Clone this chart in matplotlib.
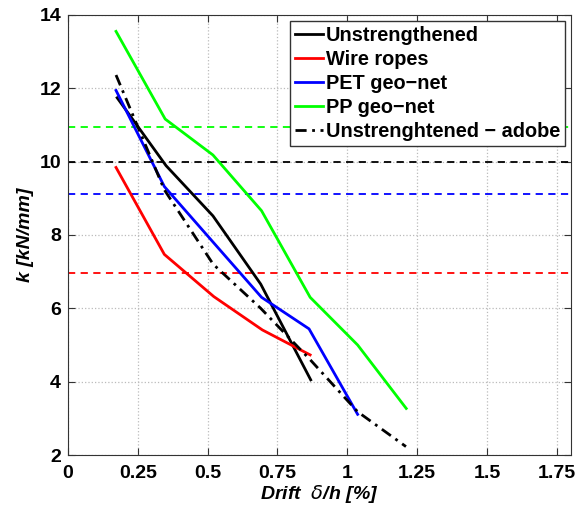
import matplotlib
matplotlib.use("Agg")
import matplotlib.pyplot as plt

plt.rcParams['font.family'] = ['Liberation Sans', 'DejaVu Sans']

# drift [%] and stiffness [kN/mm]
unstr_x = [0.176, 0.351, 0.519, 0.690, 0.869]
unstr_y = [11.74, 9.89, 8.52, 6.66, 4.05]
wire_x = [0.172, 0.345, 0.522, 0.696, 0.867]
wire_y = [9.84, 7.47, 6.32, 5.41, 4.73]
pet_x = [0.172, 0.345, 0.52, 0.693, 0.863, 1.037]
pet_y = [11.94, 9.32, 7.80, 6.30, 5.44, 3.11]
pp_x = [0.172, 0.348, 0.519, 0.693, 0.867, 1.037, 1.211]
pp_y = [13.55, 11.16, 10.18, 8.66, 6.30, 5.00, 3.27]
adobe_x = [0.172, 0.345, 0.52, 0.69, 0.867, 1.037, 1.21]
adobe_y = [12.36, 9.23, 7.20, 6.00, 4.60, 3.18, 2.23]

# reference stiffness levels (dashed)
ref_levels = {'k': 10.0, 'r': 6.96, 'b': 9.13, 'lime': 10.95}

fig = plt.figure(figsize=(5.86, 5.13), dpi=100)
ax = fig.add_axes([0.116, 0.113, 0.858, 0.858])

for c, lvl in ref_levels.items():
    ax.axhline(lvl, color=c, ls=(0, (4, 3)), lw=1.3)

ax.plot(unstr_x, unstr_y, color='k', lw=2, label='Unstrengthened')
ax.plot(wire_x, wire_y, color='r', lw=2, label='Wire ropes')
ax.plot(pet_x, pet_y, color='b', lw=2, label='PET geo\u2212net')
ax.plot(pp_x, pp_y, color='lime', lw=2, label='PP geo\u2212net')
ax.plot(adobe_x, adobe_y, color='k', lw=2, ls=(0, (4, 2, 1, 2)),
        label='Unstrenghtened \u2212 adobe')

ax.set_xlim(0, 1.8)
ax.set_ylim(2, 14)
ax.set_xticks([0, 0.25, 0.5, 0.75, 1, 1.25, 1.5, 1.75])
ax.set_xticklabels(['0', '0.25', '0.5', '0.75', '1', '1.25', '1.5', '1.75'])
ax.set_yticks(range(2, 15, 2))
ax.grid(True, ls=':', color='#bbbbbb', lw=0.9)
ax.tick_params(direction='in', top=True, right=True, length=5,
               labelsize=14, color='#333333')
ax.tick_params(axis='x', pad=7)
ax.tick_params(axis='y', pad=5)
for lab in ax.get_xticklabels() + ax.get_yticklabels():
    lab.set_fontweight('bold')
for sp in ax.spines.values():
    sp.set_color('#333333')

ax.set_xlabel(r'Drift  $\delta$/h [%]', fontsize=14, fontweight='bold',
              fontstyle='italic', labelpad=1)
ax.set_ylabel('k [kN/mm]', fontsize=14, fontweight='bold',
              fontstyle='italic', labelpad=4)

leg = ax.legend(loc='upper right', prop={'weight': 'bold', 'size': 14.3},
                handlelength=1.4, handletextpad=0.15, labelspacing=0.25,
                borderpad=0.25, borderaxespad=0.3, fancybox=False, framealpha=1)
leg.get_frame().set_edgecolor('#333333')
leg.get_frame().set_linewidth(1.0)

fig.savefig('out.png', dpi=100)
